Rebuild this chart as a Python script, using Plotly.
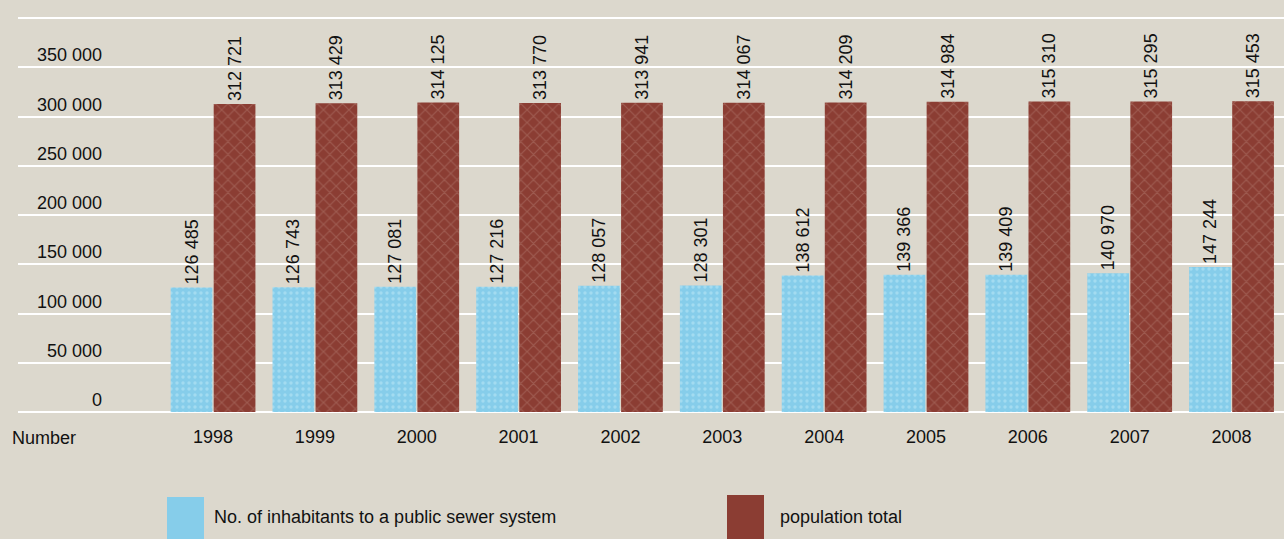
import plotly.graph_objects as go

years = ["1998", "1999", "2000", "2001", "2002", "2003", "2004", "2005", "2006", "2007", "2008"]
sewer = [126485, 126743, 127081, 127216, 128057, 128301, 138612, 139366, 139409, 140970, 147244]
population = [312721, 313429, 314125, 313770, 313941, 314067, 314209, 314984, 315310, 315295, 315453]
y_ticks = [0, 50000, 100000, 150000, 200000, 250000, 300000, 350000]
grid_top = 400000
series_names = ["No. of inhabitants to a public sewer system", "population total"]

W, H = 1284, 539
L, T, B = 18, 8, 127
PW, PH = W - L, H - T - B
ZERO_PX = H - B          # pixel row of the zero line
TOP_PX = 18              # pixel row of the 400 000 gridline

FONT = "Arial, Liberation Sans, sans-serif"
FS = 18
BG = "#dcd8cd"
BLUE = "#86cdea"
BROWN = "#8b3d33"


def fmt(v):
    return f"{v:,}".replace(",", " ")


def px_x(p):
    return (p - L) / PW


def px_y(p):
    return (H - B - p) / PH


fig = go.Figure()
fig.add_trace(go.Bar(
    x=years, y=sewer, name=series_names[0],
    marker=dict(color=BLUE, line=dict(width=0),
                pattern=dict(shape=".", fgcolor="#bfe9f6", size=6, solidity=0.25)),
    text=[fmt(v) for v in sewer], textposition="outside", textangle=-90,
    constraintext="none",
    textfont=dict(family=FONT, size=FS, color="#111"), cliponaxis=False,
))
fig.add_trace(go.Bar(
    x=years, y=population, name=series_names[1],
    marker=dict(color=BROWN, line=dict(width=0),
                pattern=dict(shape="x", fgcolor="#b0776c", size=9, solidity=0.25)),
    text=[fmt(v) for v in population], textposition="outside", textangle=-90,
    constraintext="none",
    textfont=dict(family=FONT, size=FS, color="#111"), cliponaxis=False,
))

annotations = []
for v in y_ticks:
    annotations.append(dict(
        x=px_x(104), xref="paper", y=v, yref="y", xanchor="right", yanchor="middle",
        yshift=12, text=fmt(v), showarrow=False,
        font=dict(family=FONT, size=FS, color="#111"),
    ))
annotations.append(dict(
    x=px_x(10), xref="paper", y=px_y(438), yref="paper", xanchor="left", yanchor="middle",
    text="Number", showarrow=False, font=dict(family=FONT, size=FS, color="#111"),
))
annotations.append(dict(
    x=px_x(212), xref="paper", y=px_y(517), yref="paper", xanchor="left", yanchor="middle",
    text=series_names[0], showarrow=False, font=dict(family=FONT, size=FS, color="#111"),
))
annotations.append(dict(
    x=px_x(778), xref="paper", y=px_y(517), yref="paper", xanchor="left", yanchor="middle",
    text=series_names[1], showarrow=False, font=dict(family=FONT, size=FS, color="#111"),
))

shapes = [
    dict(type="rect", xref="paper", yref="paper",
         x0=px_x(167), x1=px_x(204), y0=px_y(497), y1=px_y(540),
         fillcolor=BLUE, line=dict(width=0)),
    dict(type="rect", xref="paper", yref="paper",
         x0=px_x(727), x1=px_x(764), y0=px_y(495), y1=px_y(540),
         fillcolor=BROWN, line=dict(width=0)),
]

fig.update_layout(
    width=W, height=H,
    margin=dict(l=L, r=0, t=T, b=B, pad=0),
    paper_bgcolor=BG, plot_bgcolor=BG,
    barmode="group", bargap=0.155, bargroupgap=0.03,
    showlegend=False,
    font=dict(family=FONT, size=FS, color="#111"),
    annotations=annotations, shapes=shapes,
)
fig.update_xaxes(
    range=[-1.915, 10.515], showgrid=False, showline=False, zeroline=False,
    ticks="", tickfont=dict(family=FONT, size=FS, color="#111"), ticklabelstandoff=12,
)
fig.update_yaxes(
    range=[0, grid_top * PH / (ZERO_PX - TOP_PX)], tickvals=y_ticks + [grid_top],
    showticklabels=False,
    showgrid=True, gridcolor="#ffffff", gridwidth=1.5,
    zeroline=True, zerolinecolor="#ffffff", zerolinewidth=1.5, showline=False,
)

fig.write_html(
    "out.html",
    config={"displayModeBar": False},
    post_script="document.body.style.margin='0';document.body.style.background='#dcd8cd';",
)
